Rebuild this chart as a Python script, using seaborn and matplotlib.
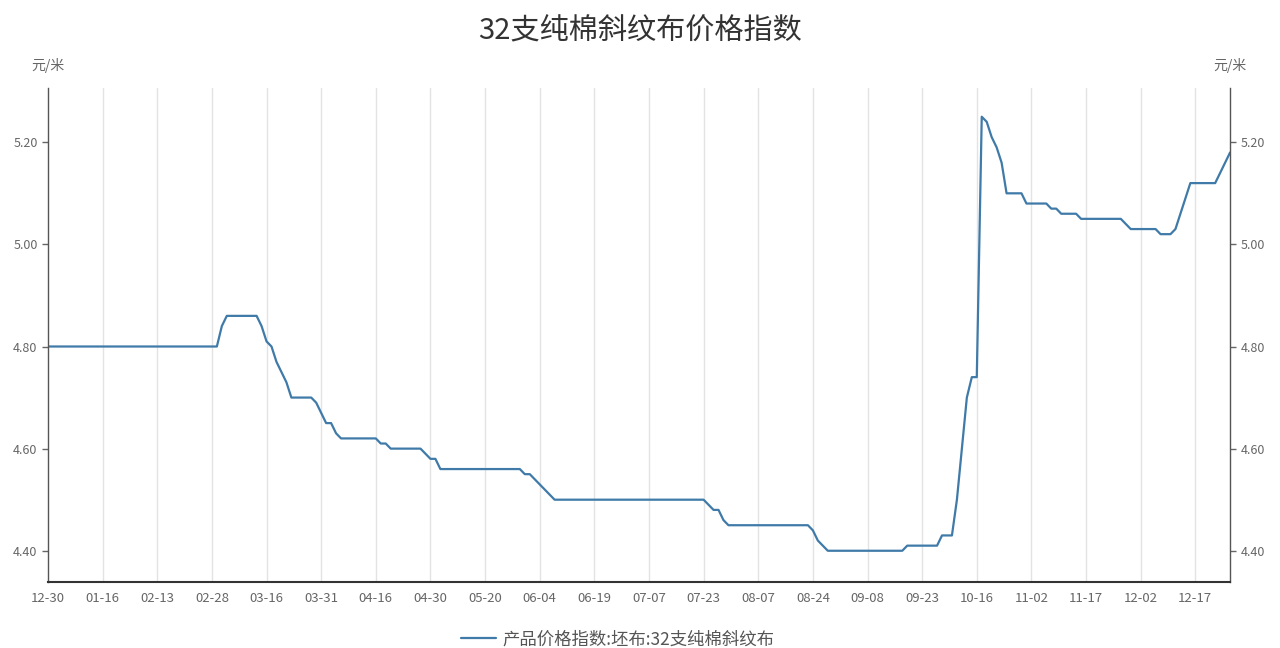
import numpy as np
import pandas as pd
import matplotlib
matplotlib.use("Agg")
import matplotlib.pyplot as plt
import seaborn as sns

# --- data (run-length encoded per trading day) ---
run_values = [4.80, 4.84, 4.86, 4.84, 4.81, 4.80, 4.77, 4.75, 4.73, 4.70,
              4.69, 4.67, 4.65, 4.63, 4.62, 4.61, 4.60, 4.59, 4.58, 4.56,
              4.55, 4.54, 4.53, 4.52, 4.51, 4.50, 4.49, 4.48, 4.46, 4.45,
              4.44, 4.42, 4.41, 4.40, 4.41, 4.43, 4.50, 4.60, 4.70, 4.74,
              5.25, 5.24, 5.21, 5.19, 5.16, 5.10, 5.08, 5.07, 5.06, 5.05,
              5.04, 5.03, 5.02, 5.03, 5.06, 5.09, 5.12, 5.14, 5.16, 5.18]
run_lengths = [35, 1, 7, 1, 1, 1, 1, 1, 1, 5,
               1, 1, 2, 1, 8, 2, 7, 1, 2, 17,
               2, 1, 1, 1, 1, 31, 1, 2, 1, 17,
               1, 1, 1, 16, 7, 3, 1, 1, 1, 2,
               1, 1, 1, 1, 1, 4, 5, 2, 4, 9,
               1, 6, 3, 1, 1, 1, 6, 1, 1, 1]

tick_labels = ["12-30", "01-16", "02-13", "02-28", "03-16", "03-31", "04-16",
               "04-30", "05-20", "06-04", "06-19", "07-07", "07-23", "08-07",
               "08-24", "09-08", "09-23", "10-16", "11-02", "11-17", "12-02",
               "12-17"]
tick_step = 11

series_name = "产品价格指数:坯布:32支纯棉斜纹布"
title = "32支纯棉斜纹布价格指数"
unit = "元/米"

price = np.repeat(run_values, run_lengths)
df = pd.DataFrame({"day": np.arange(len(price)), "price": price})

# --- style ---
sns.set_style("white")
plt.rcParams['font.family'] = ['Noto Sans CJK SC', 'DejaVu Sans']

fig = plt.figure(figsize=(12.8, 6.48), dpi=100)
ax = fig.add_axes([0.0375, 0.102, 0.9235, 0.762])

sns.lineplot(data=df, x="day", y="price", ax=ax, color="#3f7aa8",
             linewidth=1.6, label=series_name)

ticks = np.arange(len(tick_labels)) * tick_step
ax.set_xticks(ticks)
ax.set_xticklabels(tick_labels)
ax.set_xlim(0, len(price) - 1)
ax.set_ylim(4.339, 5.306)
ax.set_yticks([4.40, 4.60, 4.80, 5.00, 5.20])
ax.set_yticklabels(["4.40", "4.60", "4.80", "5.00", "5.20"])

for t in ticks[1:]:
    ax.axvline(t, color="#e3e3e3", linewidth=1, zorder=0)

ax.tick_params(axis="x", direction="out", length=4, width=1, color="#333333",
               labelcolor="#666666", labelsize=9.5, pad=3)
ax.tick_params(axis="y", direction="out", length=4, width=1, color="#666666",
               labelcolor="#666666", labelsize=9, left=True, right=True,
               labelleft=True, labelright=True)

ax.spines["top"].set_visible(False)
ax.spines["bottom"].set_color("#333333")
ax.spines["bottom"].set_linewidth(1.5)
for side in ["left", "right"]:
    ax.spines[side].set_color("#555555")
    ax.spines[side].set_linewidth(1)

ax.set_xlabel("")
ax.set_ylabel("")

ax.text(0, 1.03, unit, transform=ax.transAxes, ha="center", va="bottom",
        fontsize=10, color="#666666")
ax.text(1, 1.03, unit, transform=ax.transAxes, ha="center", va="bottom",
        fontsize=10, color="#666666")

fig.suptitle(title, y=0.975, fontsize=21, color="#333333")

ax.legend(loc="upper center", bbox_to_anchor=(0.482, -0.066), frameon=False,
          fontsize=12.5, labelcolor="#555555", handlelength=2.0,
          handletextpad=0.4)

fig.savefig("out.png", dpi=100)
